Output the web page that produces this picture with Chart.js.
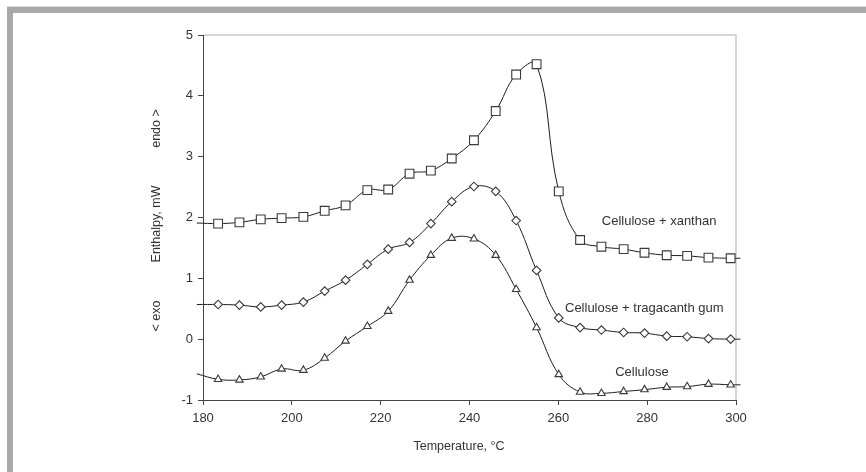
<!DOCTYPE html>
<html>
<head>
<meta charset="utf-8">
<script src="https://cdn.jsdelivr.net/npm/chart.js@4"></script>
<style>
    html, body { margin: 0; padding: 0; background: #fff; }
    canvas { display: block; }
</style>
</head>
<body>
<canvas id="myChart" width="866" height="472"></canvas>
<script>
// temperature of each measured point, °C
var temps = [183.4, 188.2, 193.0, 197.7, 202.6, 207.4, 212.1, 217.0, 221.7, 226.5, 231.3, 236.0, 241.0,
    245.9, 250.5, 255.1, 260.1, 264.9, 269.7, 274.7, 279.4, 284.4, 289.0, 293.8, 298.8];

var xanthan = [1.90, 1.92, 1.97, 1.99, 2.01, 2.11, 2.20, 2.45, 2.46, 2.72, 2.77, 2.97, 3.27,
    3.75, 4.35, 4.52, 2.43, 1.63, 1.52, 1.48, 1.42, 1.38, 1.37, 1.34, 1.33];
var tragacanth = [0.57, 0.56, 0.53, 0.56, 0.61, 0.79, 0.97, 1.23, 1.48, 1.59, 1.90, 2.26, 2.51,
    2.43, 1.95, 1.13, 0.35, 0.19, 0.15, 0.11, 0.10, 0.05, 0.04, 0.01, 0.00];
var cellulose = [-0.66, -0.67, -0.62, -0.49, -0.51, -0.31, -0.03, 0.21, 0.46, 0.97, 1.38, 1.66, 1.65,
    1.38, 0.82, 0.19, -0.58, -0.87, -0.89, -0.86, -0.83, -0.79, -0.78, -0.74, -0.75];

// the curves run a little past the first and last marker
var edgeTemps = [178.6, 301];
var xanthanEdges = [1.91, 1.33];
var tragacanthEdges = [0.57, 0.00];
var celluloseEdges = [-0.57, -0.75];

var seriesNames = ['Cellulose + xanthan', 'Cellulose + tragacanth gum', 'Cellulose'];
var xTicks = [180, 200, 220, 240, 260, 280, 300];
var yTicks = [-1, 0, 1, 2, 3, 4, 5];

// where each curve name sits (data units)
var nameAt = [[269.8, 1.93], [261.5, 0.50], [272.8, -0.54]];

var fontFamily = '"Liberation Sans", Arial, sans-serif';
var textColor = '#333';

function buildPoints(values, edges) {
    var pts = [{ x: edgeTemps[0], y: edges[0] }];
    for (var i = 0; i < temps.length; i++) {
        pts.push({ x: temps[i], y: values[i] });
    }
    pts.push({ x: edgeTemps[1], y: edges[1] });
    return pts;
}

function radii(r) {
    var list = [0];
    for (var i = 0; i < temps.length; i++) list.push(r);
    list.push(0);
    return list;
}

function makeSet(label, values, edges, style, r) {
    return {
        label: label,
        data: buildPoints(values, edges),
        borderColor: '#1e1e1e',
        borderWidth: 1,
        tension: 0.4,
        pointStyle: style,
        pointRadius: radii(r),
        pointHoverRadius: radii(r),
        pointBorderColor: '#3a3a3a',
        pointBackgroundColor: '#fff',
        pointBorderWidth: 1.1,
        clip: { left: 10, right: 10, top: 5, bottom: 5 }
    };
}

var framePlugin = {
    id: 'frame',
    beforeDraw: function (chart) {
        var ctx = chart.ctx;
        var a = chart.chartArea;
        ctx.save();
        ctx.fillStyle = '#fff';
        ctx.fillRect(0, 0, chart.width, chart.height);
        ctx.fillStyle = '#dedede';
        ctx.fillRect(7, 6, chart.width - 7, 1);
        ctx.fillStyle = '#a9a9ad';
        ctx.fillRect(7, 7, chart.width - 7, 6);
        ctx.fillRect(7, 7, 6, chart.height - 7);

        ctx.strokeStyle = '#c8c8c8';
        ctx.lineWidth = 1.5;
        ctx.beginPath();
        ctx.moveTo(a.left, a.top);
        ctx.lineTo(a.right, a.top);
        ctx.lineTo(a.right, a.bottom);
        ctx.stroke();
        ctx.restore();
    },
    afterDraw: function (chart) {
        var ctx = chart.ctx;
        var xs = chart.scales.x;
        var ys = chart.scales.y;
        ctx.save();
        ctx.fillStyle = textColor;
        ctx.textBaseline = 'middle';

        ctx.font = '13px ' + fontFamily;
        ctx.textAlign = 'left';
        for (var i = 0; i < seriesNames.length; i++) {
            ctx.fillText(seriesNames[i], xs.getPixelForValue(nameAt[i][0]), ys.getPixelForValue(nameAt[i][1]));
        }

        ctx.font = '12.5px ' + fontFamily;
        ctx.textAlign = 'center';
        ctx.fillText('Temperature, °C', 459, 447);

        ctx.translate(157, 0);
        ctx.rotate(-Math.PI / 2);
        ctx.fillText('< exo', -316, 0);
        ctx.fillText('Enthalpy, mW', -224, 0);
        ctx.fillText('endo >', -128.5, 0);
        ctx.restore();
    }
};

var ctx = document.getElementById('myChart');

var myChart = new Chart(ctx, {
    type: 'line',
    data: {
        datasets: [
            makeSet(seriesNames[0], xanthan, xanthanEdges, 'rect', 6.2),
            makeSet(seriesNames[1], tragacanth, tragacanthEdges, 'rectRot', 4.3),
            makeSet(seriesNames[2], cellulose, celluloseEdges, 'triangle', 4.3)
        ]
    },
    options: {
        responsive: false,
        animation: false,
        devicePixelRatio: 1,
        layout: {
            autoPadding: false,
            padding: { left: 140, top: 35, right: 130, bottom: 12 }
        },
        plugins: {
            legend: { display: false },
            tooltip: { enabled: false }
        },
        scales: {
            x: {
                type: 'linear',
                min: 180,
                max: 300,
                afterBuildTicks: function (scale) {
                    scale.ticks = xTicks.map(function (v) { return { value: v }; });
                },
                afterFit: function (scale) { scale.height = 60; },
                border: { color: '#444', width: 1 },
                grid: { drawOnChartArea: false, tickLength: 5, color: '#444' },
                ticks: {
                    padding: 6,
                    color: textColor,
                    font: { family: fontFamily, size: 13 }
                }
            },
            y: {
                min: -1,
                max: 5,
                afterBuildTicks: function (scale) {
                    scale.ticks = yTicks.map(function (v) { return { value: v }; });
                },
                afterFit: function (scale) { scale.width = 63; },
                border: { color: '#444', width: 1 },
                grid: { drawOnChartArea: false, tickLength: 5, color: '#444' },
                ticks: {
                    padding: 5,
                    color: textColor,
                    font: { family: fontFamily, size: 13 }
                }
            }
        }
    },
    plugins: [framePlugin]
});
</script>
</body>
</html>
